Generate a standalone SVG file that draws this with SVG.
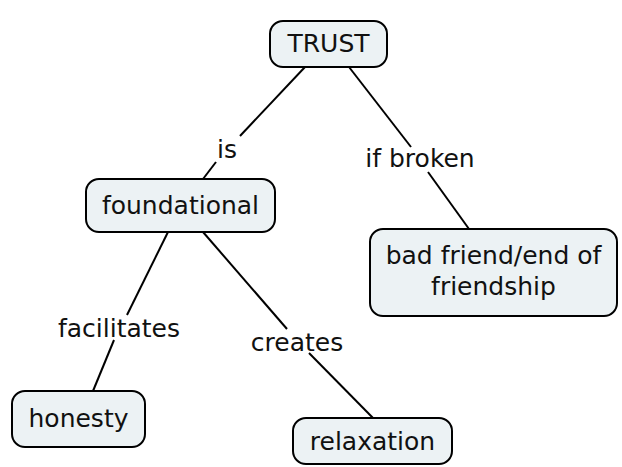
<svg xmlns="http://www.w3.org/2000/svg" width="622" height="467" viewBox="0 0 622 467">
  <style>
    .node rect { fill: #ecf2f4; stroke: #000; stroke-width: 2; }
    .node text, .label { font-family: "DejaVu Sans", Verdana, sans-serif; font-size: 25px; fill: #111; text-anchor: middle; }
    #connectors line { stroke: #000; stroke-width: 2; }
  </style>
  <rect width="622" height="467" fill="#fff"/>
  <g id="connectors">
    <line x1="305" y1="67" x2="240" y2="136"/>
    <line x1="216" y1="162" x2="203" y2="179"/>
    <line x1="349" y1="67" x2="411" y2="147"/>
    <line x1="428" y1="172" x2="469" y2="229"/>
    <line x1="168" y1="232" x2="127" y2="315"/>
    <line x1="114" y1="340" x2="93" y2="391"/>
    <line x1="203" y1="232" x2="287" y2="329"/>
    <line x1="309" y1="353" x2="373" y2="418"/>
  </g>
  <g id="labels">
    <text class="label" x="227" y="158">is</text>
    <text class="label" x="420" y="167">if broken</text>
    <text class="label" x="119" y="337">facilitates</text>
    <text class="label" x="297" y="351">creates</text>
  </g>
  <g id="trust" class="node">
    <rect x="270" y="21" width="117" height="46" rx="13"/>
    <text x="328.5" y="52">TRUST</text>
  </g>
  <g id="foundational" class="node">
    <rect x="86" y="179" width="189" height="53" rx="13"/>
    <text x="180.5" y="214">foundational</text>
  </g>
  <g id="bad-friend" class="node">
    <rect x="370" y="229" width="247" height="87" rx="13"/>
    <text x="493.5" y="264">bad friend/end of</text>
    <text x="493.5" y="295">friendship</text>
  </g>
  <g id="honesty" class="node">
    <rect x="12" y="391" width="133" height="56" rx="13"/>
    <text x="78.5" y="427">honesty</text>
  </g>
  <g id="relaxation" class="node">
    <rect x="293" y="418" width="159" height="46" rx="13"/>
    <text x="372.5" y="450">relaxation</text>
  </g>
</svg>
